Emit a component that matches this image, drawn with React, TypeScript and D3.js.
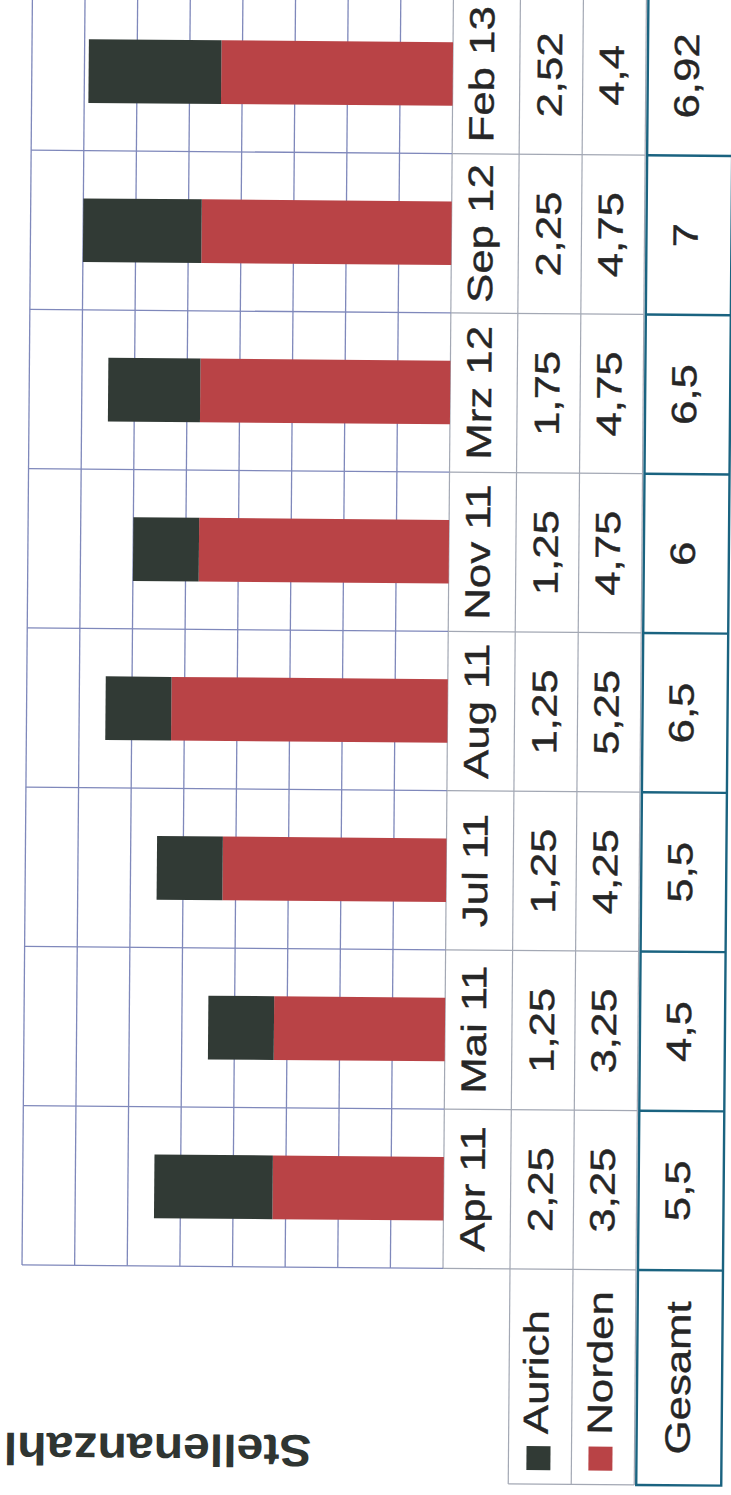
import * as d3 from 'd3';

const categories = ['Apr 11', 'Mai 11', 'Jul 11', 'Aug 11', 'Nov 11', 'Mrz 12', 'Sep 12', 'Feb 13'];
const aurich = [2.25, 1.25, 1.25, 1.25, 1.25, 1.75, 2.25, 2.52];
const norden = [3.25, 3.25, 4.25, 5.25, 4.75, 4.75, 4.75, 4.4];
const gesamt = [5.5, 4.5, 5.5, 6.5, 6, 6.5, 7, 6.92];
const valueTicks = [1, 2, 3, 4, 5, 6, 7, 8];

const W = 731;
const H = 1495;
const FONT = '"Liberation Sans", Arial, sans-serif';
const DARK = '#313a35';
const RED = '#b94346';
const GRID = '#7f88bb';
const TABLE = '#a3a8b4';
const TEAL = '#1a6380';
const INK = '#262626';

// layout (picture is a rotated scan, values run right-to-left)
const plotBottom = 1268;
const plotTop = -6;
const colCat = 443;
const colA = 510;
const colN = 573;
const colEnd = 636;
const tealL = 638;
const tealR = 723;
const tableBottom = 1483;

const fmt = (v: number) => String(v).replace('.', ',');

function VText({ x, y, size, anchor = 'middle', children }: { x: number; y: number; size: number; anchor?: string; children: string }) {
  return (
    <text
      transform={`translate(${x},${y}) rotate(-90) scale(1.25,1)`}
      textAnchor={anchor}
      fontSize={size}
      fontFamily={FONT}
      fill={INK}
      stroke={INK}
      strokeWidth={0.4}
    >
      {children}
    </text>
  );
}

export default function App() {
  const y = d3.scaleBand<string>().domain(categories).range([plotBottom, plotTop]).padding(0);
  const x = d3.scaleLinear().domain([0, 8]).range([colCat, 22]);
  const bw = y.bandwidth();
  const barH = bw * 0.4;

  return (
    <div style={{ position: 'absolute', left: 0, top: 0 }}>
      <svg width={W} height={H} style={{ display: 'block', background: '#fff' }}>
        <g transform={`rotate(0.47, 400, ${plotBottom})`}>
          {/* value grid lines */}
          {valueTicks.map((v) => (
            <line key={v} x1={x(v)} x2={x(v)} y1={plotTop} y2={plotBottom} stroke={GRID} strokeWidth={1.3} />
          ))}
          <line x1={x(0)} x2={x(0)} y1={plotTop} y2={plotBottom} stroke={TABLE} strokeWidth={1.2} />

          {/* category boundaries */}
          {categories.map((c) => (
            <g key={c}>
              <line x1={x(8)} x2={x(0)} y1={y(c)!} y2={y(c)!} stroke={GRID} strokeWidth={1.3} />
              <line x1={x(0)} x2={colEnd} y1={y(c)!} y2={y(c)!} stroke={TABLE} strokeWidth={1.2} />
            </g>
          ))}
          <line x1={x(8)} x2={x(0)} y1={plotBottom} y2={plotBottom} stroke={GRID} strokeWidth={1.3} />
          <line x1={x(0)} x2={colEnd} y1={plotBottom} y2={plotBottom} stroke={TABLE} strokeWidth={1.2} />

          {/* table columns */}
          {[colA, colN, colEnd].map((cx) => (
            <line key={cx} x1={cx} x2={cx} y1={plotTop} y2={tableBottom} stroke={TABLE} strokeWidth={1.2} />
          ))}
          <line x1={colA} x2={colEnd} y1={tableBottom} y2={tableBottom} stroke={TABLE} strokeWidth={1.2} />

          {/* teal Gesamt column */}
          <rect x={tealL} y={plotTop} width={tealR - tealL} height={tableBottom - plotTop} fill="none" stroke={TEAL} strokeWidth={2.4} />
          {categories.map((c) => (
            <line key={c} x1={tealL} x2={tealR} y1={y(c)!} y2={y(c)!} stroke={TEAL} strokeWidth={2.4} />
          ))}
          <line x1={tealL} x2={tealR} y1={plotBottom} y2={plotBottom} stroke={TEAL} strokeWidth={2.4} />

          {/* stacked bars: Norden from baseline, Aurich on top */}
          {categories.map((c, i) => {
            const by = y(c)! + (bw - barH) / 2;
            return (
              <g key={c}>
                <rect x={x(norden[i])} y={by} width={x(0) - x(norden[i])} height={barH} fill={RED} />
                <rect
                  x={x(norden[i] + aurich[i])}
                  y={by}
                  width={x(norden[i]) - x(norden[i] + aurich[i])}
                  height={barH}
                  fill={DARK}
                />
              </g>
            );
          })}

          {/* table texts */}
          {categories.map((c, i) => {
            const cy = y(c)! + bw / 2;
            return (
              <g key={c}>
                <VText x={484} y={cy} size={35}>{c}</VText>
                <VText x={552} y={cy} size={35}>{fmt(aurich[i])}</VText>
                <VText x={614} y={cy} size={35}>{fmt(norden[i])}</VText>
                <VText x={689} y={cy} size={35}>{fmt(gesamt[i])}</VText>
              </g>
            );
          })}

          {/* legend cells */}
          <rect x={528} y={1445} width={24} height={24} fill={DARK} />
          <VText x={549} y={1433} size={35} anchor="start">Aurich</VText>
          <rect x={590} y={1445} width={24} height={24} fill={RED} />
          <VText x={613} y={1433} size={35} anchor="start">Norden</VText>
          <VText x={691} y={(plotBottom + tableBottom) / 2} size={35}>Gesamt</VText>

          {/* axis title, upside down in the scan */}
          <text
            transform="translate(313,1436) rotate(180) scale(1.07,1)"
            fontSize={45}
            fontWeight="bold"
            fontFamily={FONT}
            fill="#2f3532"
          >
            Stellenanzahl
          </text>
        </g>
      </svg>
    </div>
  );
}
